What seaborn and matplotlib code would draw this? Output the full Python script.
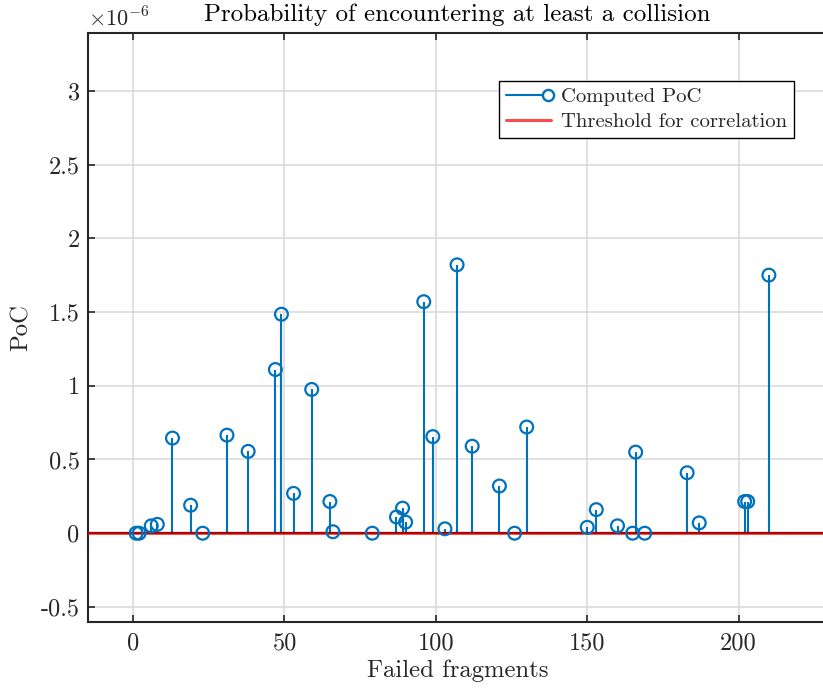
import numpy as np
import pandas as pd
import matplotlib
matplotlib.use("Agg")
import matplotlib.pyplot as plt
import seaborn as sns
from matplotlib.lines import Line2D
from matplotlib.legend_handler import HandlerBase
from matplotlib.ticker import FuncFormatter

# ---- data (PoC in units of 1e-6) ----
fragments = [1, 2, 6, 8, 13, 19, 23, 31, 38, 47, 49, 53, 59, 65, 66, 79, 87, 89, 90,
             96, 99, 103, 107, 112, 121, 126, 130, 150, 153, 160, 165, 166, 169,
             183, 187, 202, 203, 210]
poc = [0.0, 0.0, 0.05, 0.06, 0.645, 0.19, 0.0, 0.665, 0.555, 1.11, 1.485, 0.27, 0.975,
       0.215, 0.01, 0.0, 0.11, 0.17, 0.075, 1.57, 0.655, 0.03, 1.82, 0.59, 0.32, 0.0,
       0.72, 0.04, 0.16, 0.05, 0.0, 0.55, 0.0, 0.41, 0.07, 0.215, 0.215, 1.75]
threshold = 0.0
x_ticks = [0, 50, 100, 150, 200]
y_ticks = [-0.5, 0, 0.5, 1, 1.5, 2, 2.5, 3]
title = "Probability of encountering at least a collision"
xlabel = "Failed fragments"
ylabel = "PoC"
legend_labels = ["Computed PoC", "Threshold for correlation"]

df = pd.DataFrame({"fragment": fragments, "poc": poc})

sns.set_theme(style="white")
plt.rcParams["font.family"] = ["cmr10", "DejaVu Serif"]
plt.rcParams["mathtext.fontset"] = "cm"
plt.rcParams["axes.unicode_minus"] = False
plt.rcParams["axes.formatter.use_mathtext"] = True

BLUE = "#0072BD"
DARK = "#262626"

W, H = 823, 688
fig = plt.figure(figsize=(W / 100, H / 100), dpi=100)
left_px, right_px, top_px, bottom_px = 88, 827, 33.3, 621.7
ax = fig.add_axes([left_px / W, 1 - bottom_px / H, (right_px - left_px) / W, (bottom_px - top_px) / H])

# grid
ax.set_axisbelow(True)
ax.grid(True, color="#dcdcdc", linewidth=1.2)

# stems
ax.vlines(df["fragment"], 0, df["poc"], color=BLUE, linewidth=1.5, zorder=2)
# baseline (black) and threshold (semi-transparent red)
ax.axhline(0, color="black", linewidth=1.6, zorder=2.5)
ax.axhline(threshold, color=(1, 0, 0), alpha=0.78, linewidth=1.9, zorder=2.6)
# markers
sns.scatterplot(data=df, x="fragment", y="poc", ax=ax, marker="o", s=85,
                facecolors="none", edgecolors=BLUE, linewidths=1.6, zorder=3, legend=False)

ax.set_xlim(-14.9, 229.2)
ax.set_ylim(-0.6, 3.39)
ax.xaxis.set_major_locator(plt.FixedLocator(x_ticks))
ax.yaxis.set_major_locator(plt.FixedLocator(y_ticks))
ax.yaxis.set_major_formatter(FuncFormatter(lambda v, p: "%g" % v))
ax.xaxis.set_major_formatter(FuncFormatter(lambda v, p: "%g" % v))

for side in ["left", "bottom", "top", "right"]:
    ax.spines[side].set_color(DARK)
    ax.spines[side].set_linewidth(1.5)
ax.tick_params(axis="x", direction="in", length=5, width=1.2, color=DARK,
               top=True, bottom=True, labelsize=17.5, pad=8, labelcolor=DARK)
ax.tick_params(axis="y", direction="in", length=5, width=1.2, color=DARK,
               left=True, right=False, labelsize=17.5, pad=6, labelcolor=DARK)

ax.set_xlabel(xlabel, fontsize=17.8, color=DARK, labelpad=3)
ax.set_ylabel(ylabel, fontsize=17.8, color=DARK, labelpad=6)
ax.set_title(title, fontsize=18, color="black", pad=9)
fig.text(88 / W, 1 - 18 / H, r"$\times10^{-6}$", fontsize=16, color=DARK, va="center", ha="left")


class StemHandler(HandlerBase):
    def create_artists(self, legend, orig_handle, xdescent, ydescent, width, height, fontsize, trans):
        y = height / 2 - ydescent
        line = Line2D([-xdescent, -xdescent + width], [y, y], color=BLUE, lw=1.5)
        mk = Line2D([-xdescent + width - 2], [y], marker="o", mfc="white", mec=BLUE,
                    ms=8, mew=1.7, ls="none")
        line.set_transform(trans)
        mk.set_transform(trans)
        return [line, mk]


stem_handle = Line2D([], [], color=BLUE)
thr_handle = Line2D([], [], color=(1, 0, 0), alpha=0.7, lw=2.2)
leg = ax.legend([stem_handle, thr_handle], legend_labels,
                handler_map={stem_handle: StemHandler()},
                loc="upper left", bbox_to_anchor=(0.556, 0.919), borderaxespad=0,
                fontsize=14.9, frameon=True, fancybox=False, framealpha=1,
                edgecolor="black", handlelength=2.2, handletextpad=0.45,
                labelspacing=0.32, borderpad=0.33)
leg.get_frame().set_linewidth(1.0)

fig.savefig("out.png", dpi=100)
